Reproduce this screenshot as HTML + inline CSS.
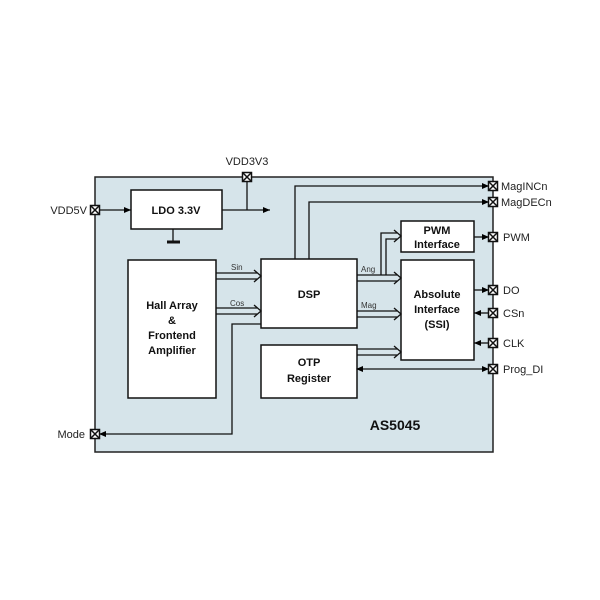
<!DOCTYPE html>
<html><head><style>body{margin:0;background:#fff}svg{display:block}</style></head><body>
<svg width="600" height="600" viewBox="0 0 600 600" xmlns="http://www.w3.org/2000/svg" font-family="Liberation Sans, Arial, sans-serif">
<defs>
<marker id="a" markerWidth="8" markerHeight="8" refX="7" refY="4" orient="auto" markerUnits="userSpaceOnUse"><path d="M0,1 L7,4 L0,7 Z" fill="#000"/></marker>
<marker id="as" markerWidth="8" markerHeight="8" refX="1" refY="4" orient="auto" markerUnits="userSpaceOnUse"><path d="M7,1 L0,4 L7,7 Z" fill="#000"/></marker>
</defs>
<rect x="95" y="177" width="398" height="275" fill="#d6e4ea" stroke="#222" stroke-width="1.5"/>
<g fill="#fff" stroke="#111" stroke-width="1.5">
<rect x="131" y="190" width="91" height="39"/>
<rect x="128" y="260" width="88" height="138"/>
<rect x="261" y="259" width="96" height="69"/>
<rect x="401" y="221" width="73" height="31"/>
<rect x="401" y="260" width="73" height="100"/>
<rect x="261" y="345" width="96" height="53"/>
</g>
<g stroke="#111" stroke-width="1.3" fill="none">
<line x1="99" y1="210" x2="131" y2="210" marker-end="url(#a)"/>
<line x1="222" y1="210" x2="270" y2="210" marker-end="url(#a)"/>
<line x1="247" y1="181" x2="247" y2="210"/>
<line x1="173" y1="229" x2="173" y2="242"/>
<line x1="167" y1="242" x2="180" y2="242" stroke-width="3"/>
<polyline points="295,259 295,186 489,186" marker-end="url(#a)"/>
<polyline points="309,259 309,202 489,202" marker-end="url(#a)"/>
<line x1="474" y1="237" x2="489" y2="237" marker-end="url(#a)"/>
<line x1="474" y1="290" x2="489" y2="290" marker-end="url(#a)"/>
<line x1="489" y1="313" x2="474" y2="313" marker-end="url(#a)"/>
<line x1="489" y1="343" x2="474" y2="343" marker-end="url(#a)"/>
<line x1="357" y1="369" x2="489" y2="369" marker-end="url(#a)" marker-start="url(#as)"/>
<polyline points="261,324 232,324 232,434 99,434" marker-end="url(#a)"/>
</g>
<!-- hollow arrows -->
<g stroke="#111" stroke-width="1.3" fill="none">
<path d="M216,273 H257 M216,279 H257 M254,270 L261,276 L254,282"/>
<path d="M216,308 H257 M216,314 H257 M254,305 L261,311 L254,317"/>
<path d="M357,275 H397 M357,281 H397 M394,272 L401,278 L394,284"/>
<path d="M381,275 V233 H397 M386,275 V239 H397 M394,230 L401,236 L394,242"/>
<path d="M357,311 H397 M357,317 H397 M394,308 L401,314 L394,320"/>
<path d="M357,349 H397 M357,355 H397 M394,346 L401,352 L394,358"/>
</g>
<!-- pins -->
<g fill="#fff" stroke="#111" stroke-width="1.5">
<g transform="translate(95,210)"><rect x="-4.5" y="-4.5" width="9" height="9"/><path d="M-4.5,-4.5 L4.5,4.5 M4.5,-4.5 L-4.5,4.5"/></g>
<g transform="translate(247,177)"><rect x="-4.5" y="-4.5" width="9" height="9"/><path d="M-4.5,-4.5 L4.5,4.5 M4.5,-4.5 L-4.5,4.5"/></g>
<g transform="translate(95,434)"><rect x="-4.5" y="-4.5" width="9" height="9"/><path d="M-4.5,-4.5 L4.5,4.5 M4.5,-4.5 L-4.5,4.5"/></g>
<g transform="translate(493,186)"><rect x="-4.5" y="-4.5" width="9" height="9"/><path d="M-4.5,-4.5 L4.5,4.5 M4.5,-4.5 L-4.5,4.5"/></g>
<g transform="translate(493,202)"><rect x="-4.5" y="-4.5" width="9" height="9"/><path d="M-4.5,-4.5 L4.5,4.5 M4.5,-4.5 L-4.5,4.5"/></g>
<g transform="translate(493,237)"><rect x="-4.5" y="-4.5" width="9" height="9"/><path d="M-4.5,-4.5 L4.5,4.5 M4.5,-4.5 L-4.5,4.5"/></g>
<g transform="translate(493,290)"><rect x="-4.5" y="-4.5" width="9" height="9"/><path d="M-4.5,-4.5 L4.5,4.5 M4.5,-4.5 L-4.5,4.5"/></g>
<g transform="translate(493,313)"><rect x="-4.5" y="-4.5" width="9" height="9"/><path d="M-4.5,-4.5 L4.5,4.5 M4.5,-4.5 L-4.5,4.5"/></g>
<g transform="translate(493,343)"><rect x="-4.5" y="-4.5" width="9" height="9"/><path d="M-4.5,-4.5 L4.5,4.5 M4.5,-4.5 L-4.5,4.5"/></g>
<g transform="translate(493,369)"><rect x="-4.5" y="-4.5" width="9" height="9"/><path d="M-4.5,-4.5 L4.5,4.5 M4.5,-4.5 L-4.5,4.5"/></g>
</g>
<g font-size="11" fill="#222">
<text x="87" y="214" text-anchor="end">VDD5V</text>
<text x="247" y="165" text-anchor="middle">VDD3V3</text>
<text x="85" y="438" text-anchor="end">Mode</text>
<text x="501" y="190">MagINCn</text>
<text x="501" y="206">MagDECn</text>
<text x="503" y="241">PWM</text>
<text x="503" y="294">DO</text>
<text x="503" y="317">CSn</text>
<text x="503" y="347">CLK</text>
<text x="503" y="373">Prog_DI</text>
</g>
<g font-size="8" fill="#333">
<text x="231" y="270">Sin</text>
<text x="230" y="306">Cos</text>
<text x="361" y="272">Ang</text>
<text x="361" y="308">Mag</text>
</g>
<g font-size="11" font-weight="bold" fill="#111" text-anchor="middle">
<text x="176" y="214">LDO 3.3V</text>
<text x="172" y="309">Hall Array</text>
<text x="172" y="324">&amp;</text>
<text x="172" y="339">Frontend</text>
<text x="172" y="354">Amplifier</text>
<text x="309" y="298">DSP</text>
<text x="437" y="234">PWM</text>
<text x="437" y="248">Interface</text>
<text x="437" y="298">Absolute</text>
<text x="437" y="313">Interface</text>
<text x="437" y="328">(SSI)</text>
<text x="309" y="366">OTP</text>
<text x="309" y="382">Register</text>
<text x="395" y="430" font-size="14">AS5045</text>
</g>
</svg>
</body></html>
